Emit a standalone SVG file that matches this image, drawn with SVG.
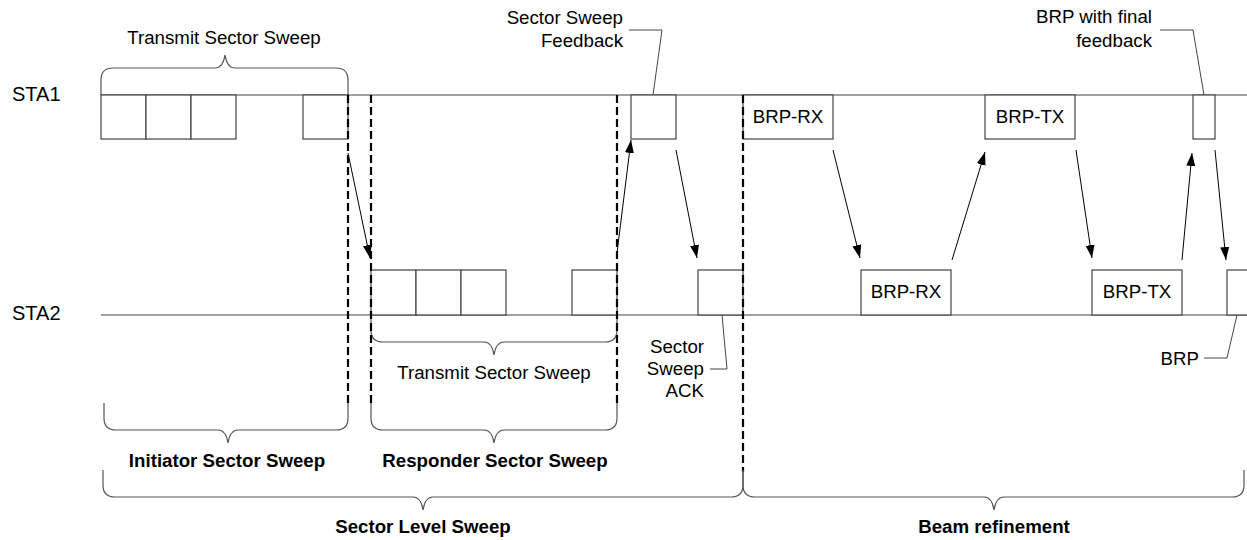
<svg xmlns="http://www.w3.org/2000/svg" width="1247" height="540" viewBox="0 0 1247 540">
<defs>
<style>
text{font-family:"Liberation Sans",Arial,sans-serif;font-size:18.7px;fill:#000}
.b{font-weight:bold}
.m{text-anchor:middle}
.e{text-anchor:end}
.sta{font-size:20px}
.ln{stroke:#444;stroke-width:1.2;fill:none}
.bx{stroke:#444;stroke-width:1.2;fill:#fff}
.dash{stroke:#000;stroke-width:2.2;stroke-dasharray:8,4;fill:none}
.br{stroke:#555;stroke-width:1.2;fill:none}
.ar{stroke:#000;stroke-width:1;fill:none;marker-end:url(#ah)}
.ld{stroke:#444;stroke-width:1;fill:none}
</style>
<marker id="ah" markerUnits="userSpaceOnUse" markerWidth="13" markerHeight="9" refX="13" refY="4.5" orient="auto">
<path d="M0,0 L13,4.5 L0,9 z" fill="#000"/>
</marker>
</defs>
<rect width="1247" height="540" fill="#fff"/>

<g id="timelines">
<line class="ln" x1="101" y1="95" x2="1247" y2="95"/>
<line class="ln" x1="101" y1="315" x2="1247" y2="315"/>
<text class="sta" x="12" y="101">STA1</text>
<text class="sta" x="12" y="320">STA2</text>
</g>

<g id="sta1-tss">
<rect class="bx" x="101" y="95" width="45" height="44"/>
<rect class="bx" x="146" y="95" width="45" height="44"/>
<rect class="bx" x="191" y="95" width="45" height="44"/>
<rect class="bx" x="303" y="95" width="45" height="44"/>
<path class="br" d="M101,95 L101,80 Q101,68 113,68 L215,68 Q223,68 225,55 Q227,68 235,68 L336,68 Q348,68 348,80 L348,95"/>
<text class="m" x="224" y="44">Transmit Sector Sweep</text>
</g>

<g id="sta2-tss">
<rect class="bx" x="371" y="270" width="45" height="45"/>
<rect class="bx" x="416" y="270" width="45" height="45"/>
<rect class="bx" x="461" y="270" width="45" height="45"/>
<rect class="bx" x="572" y="270" width="45" height="45"/>
<path class="br" d="M371,315 L371,330 Q371,342 383,342 L484,342 Q492,342 494,355 Q496,342 504,342 L605,342 Q617,342 617,330 L617,315"/>
<text class="m" x="494" y="379">Transmit Sector Sweep</text>
</g>

<g id="ssw-feedback">
<rect class="bx" x="631" y="95" width="45" height="44"/>
<path class="ld" d="M653,95 L662,30 L629,30"/>
<text class="e" x="623" y="24">Sector Sweep</text>
<text class="e" x="623" y="47">Feedback</text>
</g>

<g id="ssw-ack">
<rect class="bx" x="698" y="270" width="45" height="45"/>
<path class="ld" d="M722,315 L727,369 L710,369"/>
<text class="e" x="704" y="353">Sector</text>
<text class="e" x="704" y="375">Sweep</text>
<text class="e" x="704" y="397">ACK</text>
</g>

<g id="brp-rx-1">
<rect class="bx" x="743" y="95" width="90" height="44"/>
<text class="m" x="788" y="123">BRP-RX</text>
</g>
<g id="brp-rx-2">
<rect class="bx" x="861" y="270" width="90" height="45"/>
<text class="m" x="906" y="298">BRP-RX</text>
</g>
<g id="brp-tx-1">
<rect class="bx" x="985" y="95" width="90" height="44"/>
<text class="m" x="1030" y="123">BRP-TX</text>
</g>
<g id="brp-tx-2">
<rect class="bx" x="1092" y="270" width="90" height="45"/>
<text class="m" x="1137" y="298">BRP-TX</text>
</g>
<g id="brp-final">
<rect class="bx" x="1193" y="95" width="22" height="44"/>
<path class="ld" d="M1204,95 L1193,30 L1160,30"/>
<text class="e" x="1152" y="23">BRP with final</text>
<text class="e" x="1152" y="47">feedback</text>
</g>
<g id="brp-last">
<rect class="bx" x="1227" y="270" width="30" height="45"/>
<path class="ld" d="M1237,315 L1227,358 L1204,358"/>
<text class="e" x="1199" y="365">BRP</text>
</g>

<g id="boundaries">
<line class="dash" x1="348" y1="95" x2="348" y2="405"/>
<line class="dash" x1="371" y1="95" x2="371" y2="405"/>
<line class="dash" x1="617" y1="95" x2="617" y2="405"/>
<line class="dash" x1="743" y1="95" x2="743" y2="472"/>
</g>

<g id="phase-braces">
<path class="br" d="M104,403 L104,418 Q104,430 116,430 L218,430 Q226,430 228,443 Q230,430 238,430 L336,430 Q348,430 348,418 L348,403"/>
<text class="m b" x="227" y="467">Initiator Sector Sweep</text>
<path class="br" d="M371,403 L371,418 Q371,430 383,430 L484,430 Q492,430 494,443 Q496,430 504,430 L605,430 Q617,430 617,418 L617,403"/>
<text class="m b" x="495" y="467">Responder Sector Sweep</text>
<path class="br" d="M103,470 L103,485 Q103,497 115,497 L413,497 Q421,497 423,510 Q425,497 433,497 L731,497 Q743,497 743,485 L743,470"/>
<text class="m b" x="423" y="533">Sector Level Sweep</text>
<path class="br" d="M743,470 L743,485 Q743,497 755,497 L984,497 Q992,497 994,510 Q996,497 1004,497 L1232,497 Q1244,497 1244,485 L1244,470"/>
<text class="m b" x="994" y="533">Beam refinement</text>
</g>

<g id="connectors">
<line class="ar" x1="348" y1="153" x2="370" y2="258"/>
<line class="ar" x1="617" y1="253" x2="631" y2="140"/>
<line class="ar" x1="676" y1="150" x2="697" y2="258"/>
<line class="ar" x1="833" y1="150" x2="860" y2="258"/>
<line class="ar" x1="952" y1="260" x2="985" y2="152"/>
<line class="ar" x1="1076" y1="150" x2="1092" y2="258"/>
<line class="ar" x1="1182" y1="260" x2="1192" y2="153"/>
<line class="ar" x1="1215" y1="150" x2="1226" y2="260"/>
</g>
</svg>
